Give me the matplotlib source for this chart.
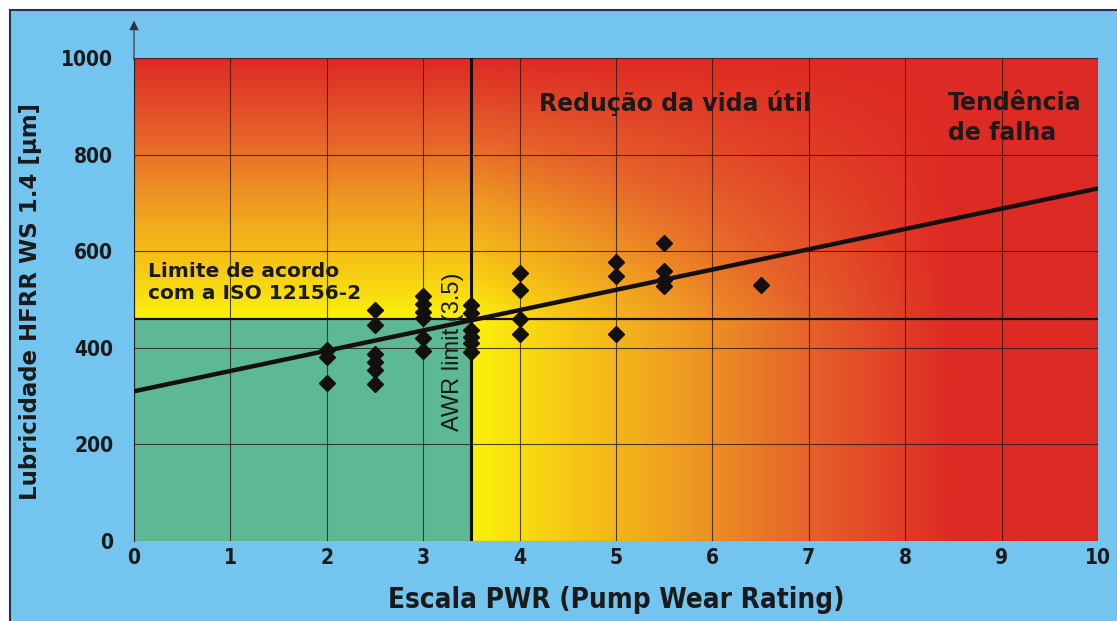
import numpy as np
import matplotlib.pyplot as plt
from matplotlib.colors import LinearSegmentedColormap
from matplotlib.patches import Rectangle

# measured pump wear rating vs HFRR wear scar
pwr = [2, 2, 2,
       2.5, 2.5, 2.5, 2.5, 2.5, 2.5,
       3, 3, 3, 3, 3, 3,
       3.5, 3.5, 3.5, 3.5, 3.5, 3.5,
       4, 4, 4, 4,
       5, 5, 5,
       5.5, 5.5, 5.5, 5.5,
       6.5]
hfrr = [396, 380, 328,
        478, 448, 388, 370, 354, 325,
        507, 490, 475, 462, 420, 393,
        488, 472, 437, 423, 410, 392,
        555, 519, 459, 429,
        577, 549, 429,
        618, 560, 541, 528,
        530]

# trend line end points
fit_x = [0, 10]
fit_y = [310, 730]

iso_limit = 460   # ISO 12156-2
awr_limit = 3.5

x_ticks = list(range(0, 11))
y_ticks = [0, 200, 400, 600, 800, 1000]

W, H = 1117, 621
fig = plt.figure(figsize=(W / 100, H / 100), dpi=100)
fig.patch.set_facecolor('white')

# blue panel with dark border on top/left
bg = fig.add_axes([0, 0, 1, 1])
bg.set_xlim(0, W)
bg.set_ylim(H, 0)
bg.axis('off')
bg.add_patch(Rectangle((10, 10), W + 10, H + 10, facecolor='#73c4ef',
                       edgecolor='#2a3242', linewidth=1.5))

ax = fig.add_axes([134 / W, 1 - 541 / H, (1098 - 134) / W, (541 - 58) / H])
ax.set_xlim(0, 10)
ax.set_ylim(0, 1000)
ax.patch.set_alpha(0)

# heat colour field: yellow -> orange -> red
heat_cmap = LinearSegmentedColormap.from_list('heat', [
    (0.00, '#faf20a'),
    (0.20, '#f6c814'),
    (0.45, '#ef9a22'),
    (0.70, '#e6622a'),
    (1.00, '#de2a24')])
gx = np.linspace(0, 10, 500)
gy = np.linspace(0, 1000, 500)
GX, GY = np.meshgrid(gx, gy)
hx = np.clip((GX - awr_limit) / 5.0, 0, 1)
hy = np.clip((GY - iso_limit) / (1000 - iso_limit), 0, 1)
heat = 1 - (1 - hx) * (1 - hy)
ax.imshow(heat, cmap=heat_cmap, vmin=0, vmax=1, origin='lower',
          extent=[0, 10, 0, 1000], aspect='auto', interpolation='bilinear', zorder=0)

# within-limits zone
ax.add_patch(Rectangle((0, 0), awr_limit, iso_limit, facecolor='#5db995',
                       edgecolor='none', zorder=1))

ax.set_xticks(x_ticks)
ax.set_yticks(y_ticks)
ax.grid(True, color='#2a1a14', linewidth=0.8, alpha=0.8, zorder=2)
ax.set_axisbelow(False)
ax.tick_params(axis='y', length=0, pad=15)
ax.tick_params(axis='x', length=0, pad=5)
for s in ['top', 'right', 'bottom']:
    ax.spines[s].set_visible(False)
ax.spines['left'].set_color('#2a3242')
ax.spines['left'].set_linewidth(0.8)

for lab in ax.get_xticklabels() + ax.get_yticklabels():
    lab.set_fontweight('bold')
    lab.set_fontstretch('condensed')
    lab.set_fontsize(15)
    lab.set_color('#1a1a1a')

# y axis arrow
ax.annotate('', xy=(0, 1.083), xytext=(0, 0.99), xycoords='axes fraction',
            arrowprops=dict(arrowstyle='-|>', color='#2a3242', lw=0.8,
                            mutation_scale=14), annotation_clip=False)

# limit lines
ax.plot([0, 10], [iso_limit, iso_limit], color='#111111', lw=1.6, zorder=3)
ax.plot([awr_limit, awr_limit], [0, 1000], color='#111111', lw=2.2, zorder=3)

# trend line and points
ax.plot(fit_x, fit_y, color='#151010', lw=3.2, zorder=4, solid_capstyle='butt')
ax.plot(pwr, hfrr, 'D', color='#151010', ms=8, zorder=5)

txt = dict(color='#1a1a1a', fontweight='bold', zorder=6)
ax.text(0.15, 558, 'Limite de acordo', fontsize=14.5, va='center', ha='left', **txt)
ax.text(0.15, 512, 'com a ISO 12156-2', fontsize=14.5, va='center', ha='left', **txt)
ax.text(4.2, 907, 'Redução da vida útil', fontsize=17, va='center', ha='left', **txt)
ax.text(8.44, 907, 'Tendência', fontsize=17, va='center', ha='left', **txt)
ax.text(8.44, 845, 'de falha', fontsize=17, va='center', ha='left', **txt)
ax.text(3.31, 392, 'AWR limit (3.5)', fontsize=17, rotation=90, va='center',
        ha='center', family='Liberation Sans', color='#1a1a1a', zorder=6)

ax.set_xlabel('Escala PWR (Pump Wear Rating)', fontsize=20, fontweight='bold',
              fontstretch='condensed', color='#1a1a1a', labelpad=13)
ax.set_ylabel('Lubricidade HFRR WS 1.4 [μm]', fontsize=16.5, fontweight='bold',
              color='#1a1a1a')
ax.yaxis.set_label_coords(-0.095, 0.495)

fig.savefig('out.png', dpi=100)
